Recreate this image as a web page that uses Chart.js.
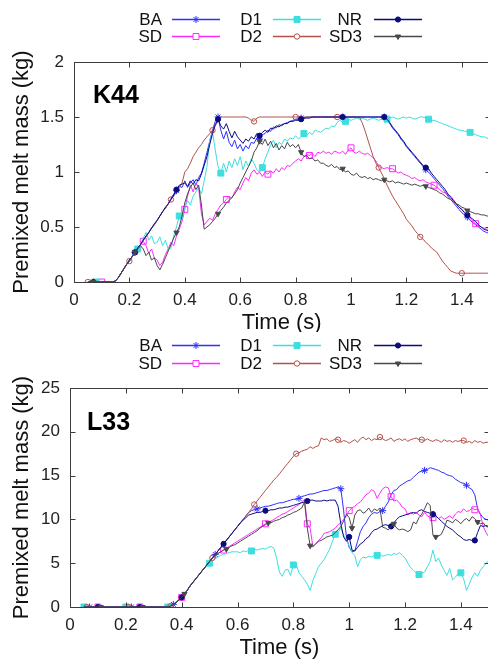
<!DOCTYPE html>
<html>
<head>
<meta charset="utf-8">
<script src="https://cdn.jsdelivr.net/npm/chart.js@4/dist/chart.umd.min.js"></script>
<style>
  html, body { margin: 0; padding: 0; background: #fff; }
  #wrap { position: relative; width: 488px; height: 664px; overflow: hidden; }
  canvas { position: absolute; left: 0; }
  #k44 { top: 0; }
  #l33 { top: 332px; }
</style>
</head>
<body>
<div id="wrap">
  <canvas id="k44" width="494" height="332"></canvas>
  <canvas id="l33" width="494" height="332"></canvas>
</div>
<script>
// time samples shared by both panels (s)
const TIME = [0.05,0.06,0.07,0.08,0.09,
  0.10,0.11,0.12,0.13,0.14,0.15,0.16,0.17,0.18,0.19,
  0.20,0.21,0.22,0.23,0.24,0.25,0.26,0.27,0.28,0.29,
  0.30,0.31,0.32,0.33,0.34,0.35,0.36,0.37,0.38,0.39,
  0.40,0.41,0.42,0.43,0.44,0.45,0.46,0.47,0.48,0.49,
  0.50,0.51,0.52,0.53,0.54,0.55,0.56,0.57,0.58,0.59,
  0.60,0.61,0.62,0.63,0.64,0.65,0.66,0.67,0.68,0.69,
  0.70,0.71,0.72,0.73,0.74,0.75,0.76,0.77,0.78,0.79,
  0.80,0.81,0.82,0.83,0.84,0.85,0.86,0.87,0.88,0.89,
  0.90,0.91,0.92,0.93,0.94,0.95,0.96,0.97,0.98,0.99,
  1.00,1.01,1.02,1.03,1.04,1.05,1.06,1.07,1.08,1.09,
  1.10,1.11,1.12,1.13,1.14,1.15,1.16,1.17,1.18,1.19,
  1.20,1.21,1.22,1.23,1.24,1.25,1.26,1.27,1.28,1.29,
  1.30,1.31,1.32,1.33,1.34,1.35,1.36,1.37,1.38,1.39,
  1.40,1.41,1.42,1.43,1.44,1.45,1.46,1.47,1.48,1.49,
  1.50];

const TIME_TICKS = [0, 0.2, 0.4, 0.6, 0.8, 1, 1.2, 1.4];
const K44_TICKS = [0, 0.5, 1, 1.5, 2];
const L33_TICKS = [0, 5, 10, 15, 20, 25];

// ---- K44 (kg) ----
const K44_BA = [0,0,0,0,0,
  0,0,0,0,0,0.01,0.04,0.08,0.12,0.16,
  0.20,0.23,0.27,0.30,0.34,0.38,0.41,0.45,0.49,0.52,
  0.56,0.60,0.64,0.67,0.71,0.76,0.80,0.83,0.87,0.86,
  0.92,0.86,0.90,0.93,0.88,0.95,0.99,1.08,1.18,1.28,
  1.38,1.46,1.50,1.38,1.30,1.37,1.27,1.23,1.29,1.21,
  1.25,1.19,1.24,1.21,1.27,1.26,1.31,1.30,1.34,1.35,
  1.38,1.37,1.41,1.40,1.43,1.42,1.44,1.45,1.46,1.47,
  1.48,1.48,1.49,1.49,1.50,1.50,1.50,1.50,1.50,1.50,
  1.50,1.50,1.50,1.50,1.50,1.50,1.50,1.50,1.50,1.50,
  1.50,1.50,1.50,1.50,1.50,1.50,1.50,1.50,1.50,1.50,
  1.50,1.50,1.50,1.47,1.44,1.40,1.37,1.34,1.30,1.27,
  1.23,1.20,1.17,1.14,1.11,1.08,1.05,1.02,1.00,0.97,
  0.94,0.91,0.88,0.85,0.82,0.78,0.75,0.72,0.69,0.66,
  0.63,0.61,0.59,0.56,0.54,0.52,0.50,0.48,0.46,0.45,
  0.44];
const K44_SD = [0,0,0,0,0,
  0,0,0,0,0,0.01,0.04,0.08,0.12,0.16,
  0.19,0.23,0.27,0.30,0.34,0.37,0.33,0.26,0.30,0.22,
  0.20,0.15,0.18,0.25,0.30,0.36,0.33,0.42,0.48,0.55,
  0.66,0.78,0.88,0.82,0.90,0.86,0.62,0.52,0.55,0.58,
  0.56,0.62,0.66,0.70,0.72,0.75,0.78,0.76,0.82,0.86,
  0.84,0.90,0.95,0.92,0.99,1.02,0.98,1.00,0.96,1.00,
  0.98,1.01,0.99,1.03,1.00,1.04,1.02,1.06,1.05,1.08,
  1.10,1.12,1.10,1.14,1.16,1.15,1.17,1.14,1.18,1.17,
  1.19,1.17,1.18,1.16,1.19,1.18,1.17,1.19,1.16,1.20,
  1.22,1.18,1.17,1.19,1.17,1.16,1.17,1.15,1.13,1.10,
  1.05,1.04,1.03,1.04,1.03,1.03,1.01,0.99,1.00,0.98,
  0.97,0.96,0.94,0.95,0.93,0.92,0.93,0.91,0.90,0.89,
  0.88,0.86,0.84,0.82,0.81,0.79,0.78,0.75,0.71,0.68,
  0.66,0.63,0.61,0.58,0.55,0.53,0.51,0.50,0.49,0.48,
  0.48];
const K44_D1 = [0,0,0,0,0,
  0,0,0,0,0,0.01,0.04,0.08,0.12,0.16,
  0.19,0.23,0.26,0.30,0.34,0.40,0.45,0.38,0.42,0.35,
  0.36,0.41,0.33,0.38,0.30,0.31,0.42,0.50,0.60,0.58,
  0.68,0.74,0.70,0.78,0.82,0.86,0.80,0.92,1.05,1.29,
  1.36,1.20,1.05,0.99,1.08,1.00,1.10,1.04,1.12,1.06,
  1.14,1.02,1.10,1.05,1.12,1.08,1.02,1.00,1.04,1.12,
  1.18,1.25,1.29,1.22,1.27,1.25,1.30,1.28,1.31,1.30,
  1.33,1.30,1.32,1.35,1.33,1.36,1.34,1.38,1.37,1.36,
  1.38,1.40,1.39,1.42,1.41,1.45,1.47,1.45,1.46,1.48,
  1.47,1.48,1.49,1.48,1.49,1.48,1.47,1.48,1.49,1.48,
  1.47,1.48,1.49,1.48,1.49,1.50,1.49,1.48,1.49,1.50,
  1.49,1.50,1.49,1.48,1.49,1.50,1.50,1.49,1.48,1.47,
  1.47,1.46,1.45,1.44,1.43,1.42,1.41,1.40,1.39,1.38,
  1.38,1.37,1.37,1.36,1.35,1.34,1.33,1.32,1.32,1.31,
  1.30];
const K44_D2 = [0,0,0,0,0,
  0,0,0,0,0,0.01,0.04,0.08,0.12,0.16,
  0.19,0.23,0.27,0.30,0.34,0.38,0.41,0.45,0.49,0.52,
  0.56,0.60,0.64,0.67,0.71,0.75,0.78,0.82,0.86,0.90,
  1.00,1.03,1.08,1.14,1.18,1.22,1.25,1.29,1.32,1.35,
  1.38,1.42,1.46,1.50,1.50,1.50,1.50,1.50,1.50,1.50,
  1.50,1.50,1.50,1.49,1.47,1.46,1.49,1.50,1.50,1.50,
  1.50,1.50,1.50,1.50,1.50,1.50,1.50,1.50,1.50,1.50,
  1.50,1.50,1.50,1.50,1.50,1.50,1.50,1.50,1.50,1.50,
  1.50,1.50,1.50,1.50,1.50,1.50,1.50,1.50,1.50,1.50,
  1.50,1.50,1.50,1.50,1.45,1.38,1.30,1.22,1.14,1.08,
  1.04,0.99,0.94,0.88,0.83,0.78,0.74,0.70,0.66,0.62,
  0.57,0.54,0.51,0.47,0.44,0.41,0.39,0.36,0.34,0.31,
  0.29,0.27,0.23,0.19,0.16,0.13,0.10,0.09,0.08,0.08,
  0.08,0.08,0.08,0.08,0.08,0.08,0.08,0.08,0.08,0.08,
  0.08];
const K44_NR = [0,0,0,0,0,
  0,0,0,0,0,0.01,0.04,0.08,0.12,0.16,
  0.20,0.23,0.27,0.31,0.34,0.38,0.42,0.45,0.49,0.53,
  0.56,0.60,0.64,0.68,0.71,0.75,0.79,0.84,0.88,0.89,
  0.90,0.87,0.92,0.89,0.93,0.92,0.98,1.06,1.14,1.25,
  1.35,1.43,1.48,1.42,1.39,1.44,1.37,1.31,1.37,1.32,
  1.29,1.26,1.30,1.28,1.32,1.30,1.35,1.33,1.36,1.38,
  1.36,1.40,1.39,1.42,1.41,1.43,1.44,1.44,1.46,1.46,
  1.47,1.47,1.48,1.49,1.49,1.49,1.50,1.50,1.50,1.50,
  1.50,1.50,1.50,1.50,1.50,1.50,1.50,1.50,1.50,1.50,
  1.50,1.50,1.50,1.50,1.50,1.50,1.50,1.50,1.50,1.50,
  1.50,1.50,1.50,1.48,1.45,1.41,1.38,1.35,1.31,1.28,
  1.24,1.21,1.18,1.15,1.12,1.09,1.06,1.04,1.03,0.99,
  0.96,0.93,0.90,0.87,0.84,0.80,0.77,0.74,0.71,0.68,
  0.66,0.63,0.61,0.59,0.57,0.55,0.52,0.50,0.48,0.47,
  0.46];
const K44_SD3 = [0,0,0,0,0,
  0,0,0,0,0,0.01,0.04,0.08,0.12,0.16,
  0.19,0.23,0.27,0.30,0.33,0.30,0.24,0.27,0.20,0.22,
  0.15,0.11,0.16,0.22,0.28,0.34,0.40,0.45,0.50,0.60,
  0.72,0.80,0.86,0.90,0.84,0.88,0.70,0.48,0.50,0.52,
  0.55,0.58,0.62,0.65,0.68,0.72,0.74,0.77,0.80,0.84,
  0.90,0.95,1.00,1.05,1.10,1.18,1.22,1.28,1.25,1.30,
  1.24,1.28,1.22,1.26,1.20,1.24,1.21,1.27,1.23,1.25,
  1.22,1.25,1.18,1.14,1.15,1.12,1.13,1.10,1.11,1.08,
  1.08,1.06,1.05,1.07,1.04,1.05,1.02,1.03,1.00,1.01,
  0.98,0.97,0.99,0.96,0.95,0.96,0.94,0.95,0.93,0.94,
  0.93,0.92,0.93,0.92,0.91,0.92,0.90,0.91,0.90,0.89,
  0.90,0.89,0.88,0.89,0.88,0.87,0.88,0.87,0.86,0.85,
  0.84,0.83,0.81,0.80,0.78,0.76,0.75,0.73,0.71,0.70,
  0.68,0.67,0.65,0.64,0.63,0.62,0.62,0.61,0.61,0.60,
  0.60];

// ---- L33 (kg) ----
const L33_BA = [0,0,0,0,0,
  0,0,0,0,0,0,0,0,0,0,
  0,0,0,0,0,0,0,0,0,0,
  0,0,0,0,0,0,0.1,0.3,0.5,0.8,
  1.1,1.5,1.9,2.4,2.8,3.2,3.6,4.0,4.4,4.8,
  5.2,5.6,6.0,6.4,6.8,7.2,7.6,8.0,8.4,8.8,
  9.2,9.6,10.0,10.4,10.8,11.0,11.1,11.2,11.3,11.4,
  11.5,11.5,11.6,11.7,11.8,11.9,11.9,12.0,12.1,12.2,
  12.3,12.3,12.4,12.6,12.7,12.8,12.9,12.9,13.0,13.1,
  13.2,13.3,13.3,13.4,13.5,13.6,13.7,13.5,11.0,8.0,
  6.8,6.3,6.4,7.5,8.6,9.2,9.6,10.2,10.6,10.8,
  10.7,10.9,11.0,11.5,12.0,12.8,13.3,13.4,13.8,14.0,
  14.2,14.4,14.5,14.8,15.1,15.4,15.5,15.6,15.7,15.9,
  15.8,15.7,15.6,15.4,15.3,15.1,15.0,14.9,14.6,14.4,
  14.2,14.1,13.9,13.6,13.4,12.8,11.2,10.6,10.2,10.0,
  9.9];
const L33_SD = [0,0,0,0,0,
  0,0,0,0,0,0,0,0,0,0,
  0,0,0,0,0,0,0,0,0,0,
  0,0,0,0,0,0,0.1,0.3,0.5,0.8,
  1.1,1.5,1.9,2.4,2.8,3.2,3.6,4.0,4.4,4.8,
  5.2,5.6,5.9,6.1,6.3,6.5,6.7,6.9,7.1,7.3,
  7.5,7.7,7.9,8.1,8.3,8.5,8.7,8.9,9.1,9.3,
  9.5,9.7,9.8,10.0,10.2,10.4,10.6,10.7,10.9,11.1,
  11.3,11.5,11.7,12.0,12.3,9.5,9.0,6.9,7.2,7.6,
  7.9,8.4,8.5,8.6,8.8,9.0,9.4,9.6,10.0,10.4,
  11.0,11.3,11.5,11.8,12.0,12.4,12.8,13.0,13.4,13.2,
  12.4,13.0,13.5,13.7,13.6,12.6,12.1,12.2,11.9,11.4,
  11.2,10.5,10.8,10.6,10.8,10.5,10.3,10.8,10.4,10.2,
  10.2,10.4,10.1,10.3,10.0,10.2,10.4,10.1,10.6,10.9,
  10.8,11.2,10.9,11.0,11.3,11.1,11.2,10.5,9.2,8.5,
  8.0];
const L33_D1 = [0,0,0,0,0,
  0,0,0,0,0,0,0,0,0,0,
  0,0,0,0,0,0,0,0,0,0,
  0,0,0,0,0,0,0.1,0.3,0.5,0.8,
  1.1,1.5,1.9,2.4,2.8,3.2,3.6,4.0,4.4,4.7,
  5.0,5.3,5.5,5.7,5.9,6.0,6.1,6.2,6.3,6.3,
  6.3,6.2,6.4,6.3,6.5,6.4,6.6,6.5,6.6,6.7,
  6.6,6.8,6.9,6.7,5.6,4.0,3.5,4.2,4.3,3.6,
  4.8,4.9,3.9,3.5,3.1,2.6,1.9,3.0,3.8,4.6,
  5.0,5.4,6.0,6.6,7.5,8.3,8.5,9.0,8.2,7.6,
  7.0,6.2,5.9,4.6,5.4,5.7,5.6,5.8,5.7,5.9,
  5.9,6.0,5.8,5.9,6.0,5.9,6.1,6.0,6.2,5.9,
  5.6,5.0,4.5,4.2,3.9,3.7,3.8,4.0,4.6,5.2,
  6.5,5.2,5.6,4.8,4.2,3.6,4.4,3.1,3.4,3.8,
  3.9,3.2,1.9,2.6,3.4,3.9,3.5,4.2,4.6,5.0,
  5.3];
const L33_D2 = [0,0,0,0,0,
  0,0,0,0,0,0,0,0,0,0,
  0,0,0,0,0,0,0,0,0,0,
  0,0,0,0,0,0,0.1,0.3,0.5,0.8,
  1.1,1.5,1.9,2.4,2.8,3.2,3.6,4.0,4.4,4.8,
  5.2,5.6,6.0,6.4,6.8,7.2,7.6,8.0,8.4,8.8,
  9.2,9.6,10.0,10.4,10.8,11.2,11.7,12.1,12.5,12.9,
  13.3,13.7,14.1,14.5,14.8,15.2,15.6,16.0,16.4,16.8,
  17.2,17.5,17.6,17.8,17.9,18.0,18.3,18.1,18.3,18.4,
  19.3,19.1,19.2,18.9,19.0,19.2,19.1,18.8,19.0,18.9,
  18.7,18.9,19.1,18.8,19.2,19.4,19.1,19.3,19.0,19.2,
  19.1,19.4,19.2,19.0,19.1,19.3,18.9,19.1,19.2,19.0,
  19.2,18.9,19.1,19.2,19.3,19.1,19.1,19.0,19.2,19.0,
  18.9,19.1,19.0,18.8,19.1,18.9,19.0,18.8,19.0,18.9,
  19.0,19.0,18.8,18.9,18.7,19.0,18.8,18.9,18.7,18.8,
  18.8];
const L33_NR = [0,0,0,0,0,
  0,0,0,0,0,0,0,0,0,0,
  0,0,0,0,0,0,0,0,0,0,
  0,0,0,0,0,0,0.1,0.3,0.5,0.8,
  1.1,1.5,1.9,2.4,2.8,3.2,3.6,4.0,4.4,4.8,
  5.2,5.6,6.0,6.4,6.8,7.2,7.6,8.0,8.4,8.8,
  9.2,9.6,9.9,10.2,10.5,10.6,10.7,10.8,10.8,10.9,
  11.0,11.0,11.1,11.1,11.2,11.3,11.3,11.4,11.4,11.5,
  11.6,11.7,11.8,11.9,12.0,12.1,12.2,12.2,12.1,12.1,
  12.1,12.2,12.1,12.2,12.2,12.2,11.5,9.5,8.0,7.5,
  8.0,6.5,6.4,6.8,7.2,7.4,7.8,8.0,8.5,8.8,
  8.9,9.1,9.3,9.4,9.3,9.2,9.6,10.0,10.3,10.4,
  10.5,10.6,10.7,10.8,10.7,11.0,11.1,10.9,10.8,10.7,
  10.6,10.4,10.1,9.8,9.5,9.2,9.0,8.8,8.5,8.2,
  8.0,7.7,7.6,7.7,7.6,7.6,8.5,9.3,9.2,9.3,
  9.2];
const L33_SD3 = [0,0,0,0,0,
  0,0,0,0,0,0,0,0,0,0,
  0,0,0,0,0,0,0,0,0,0,
  0,0,0,0,0,0,0.1,0.3,0.5,0.8,
  1.1,1.5,1.9,2.4,2.8,3.2,3.6,4.0,4.4,4.8,
  5.2,5.6,5.9,6.1,6.3,6.5,6.6,6.8,7.0,7.1,
  7.3,7.5,7.7,7.9,8.1,8.3,8.5,8.7,9.0,9.2,
  9.4,9.6,9.6,9.8,9.9,10.0,10.2,10.3,10.5,10.6,
  10.8,10.9,11.1,11.3,12.0,9.0,7.0,6.9,7.2,7.5,
  7.6,7.8,8.0,8.1,8.2,8.5,8.8,9.2,9.8,10.6,
  10.2,9.0,10.5,11.0,11.1,10.7,10.9,11.3,10.8,11.2,
  11.0,11.3,9.1,9.0,8.8,9.2,9.5,9.0,8.8,8.9,
  8.8,8.6,8.8,9.7,9.5,10.2,10.6,11.2,11.9,11.6,
  8.2,8.0,8.1,8.3,9.0,9.9,9.8,9.6,10.0,9.8,
  9.5,9.9,10.1,9.8,10.3,10.1,9.7,9.5,9.6,9.2,
  9.1];

// look of each series (legend order: row 1 BA D1 NR, row 2 SD D2 SD3)
const STYLES = {
  BA:  { color: '#2f2fff', point: 'star',     r: 3.5, fill: false, rot: 0 },
  D1:  { color: '#3edede', point: 'rect',     r: 4.2, fill: true,  rot: 0 },
  NR:  { color: '#0b0b80', point: 'circle',   r: 2.6, fill: true,  rot: 0 },
  SD:  { color: '#ff2aff', point: 'rect',     r: 4.2, fill: false, rot: 0 },
  D2:  { color: '#b3504a', point: 'circle',   r: 2.7, fill: false, rot: 0 },
  SD3: { color: '#484848', point: 'triangle', r: 3,   fill: true,  rot: 180 }
};
const LEGEND_ROWS = [['BA', 'D1', 'NR'], ['SD', 'D2', 'SD3']];
// first marker time of each series, a marker every 0.15 s
const K44_MARKS = { BA: 0.07, D1: 0.08, NR: 0.07, SD: 0.10, D2: 0.05, SD3: 0.07 };
const L33_MARKS = { BA: 0.07, D1: 0.05, NR: 0.10, SD: 0.10, D2: 0.06, SD3: 0.11 };

const FONT = '"Liberation Sans", Arial, sans-serif';

function makeDataset(name, values, firstMark) {
  const s = STYLES[name];
  return {
    label: name,
    data: TIME.map((t, i) => ({ x: t, y: values[i] })),
    borderColor: s.color,
    borderWidth: 1,
    pointStyle: s.point,
    pointRotation: s.rot,
    pointBorderColor: s.color,
    pointBackgroundColor: s.fill ? s.color : 'rgba(0,0,0,0)',
    pointBorderWidth: 1,
    pointRadius: function(ctx) {
      const k = Math.round((TIME[ctx.dataIndex] - firstMark) * 100);
      return (k >= 0 && k % 15 === 0) ? s.r : 0;
    },
    pointHoverRadius: 0,
    tension: 0,
    fill: false
  };
}

// frame with inward ticks, panel label and the two-row legend
const framePlugin = {
  id: 'frame',
  afterDraw(chart, args, opts) {
    const { ctx, chartArea: a, scales: { x, y } } = chart;
    const L = Math.round(a.left) + 0.5, R = Math.round(a.right) + 0.5;
    const T = Math.round(a.top) + 0.5, B = Math.round(a.bottom) + 0.5;
    ctx.save();
    ctx.strokeStyle = '#3c3c3c';
    ctx.lineWidth = 1;
    ctx.strokeRect(L, T, R - L, B - T);
    ctx.beginPath();
    x.ticks.forEach(t => {
      const px = Math.round(x.getPixelForValue(t.value)) + 0.5;
      ctx.moveTo(px, B); ctx.lineTo(px, B - 5);
      ctx.moveTo(px, T); ctx.lineTo(px, T + 5);
    });
    y.ticks.forEach(t => {
      const py = Math.round(y.getPixelForValue(t.value)) + 0.5;
      ctx.moveTo(L, py); ctx.lineTo(L + 5, py);
      ctx.moveTo(R, py); ctx.lineTo(R - 5, py);
    });
    ctx.stroke();

    ctx.fillStyle = '#000';
    ctx.font = 'bold 25px ' + FONT;
    ctx.textAlign = 'left';
    ctx.textBaseline = 'alphabetic';
    ctx.fillText(opts.label, opts.labelX, opts.labelY);

    ctx.font = '17px ' + FONT;
    ctx.textAlign = 'right';
    ctx.textBaseline = 'middle';
    const textRight = [162, 262, 362];
    const lineX = [[172, 220], [273, 321], [374, 422]];
    LEGEND_ROWS.forEach((row, ri) => {
      const ly = opts.legendY[ri];
      row.forEach((name, ci) => {
        const s = STYLES[name];
        ctx.fillStyle = '#111';
        ctx.fillText(name, textRight[ci], ly + 1);
        ctx.strokeStyle = s.color;
        ctx.lineWidth = 1.5;
        ctx.beginPath();
        ctx.moveTo(lineX[ci][0], ly + 0.5);
        ctx.lineTo(lineX[ci][1], ly + 0.5);
        ctx.stroke();
        if (Chart.helpers && Chart.helpers.drawPoint) {
          ctx.lineWidth = 1;
          ctx.fillStyle = s.fill ? s.color : '#fff';
          Chart.helpers.drawPoint(ctx, { pointStyle: s.point, rotation: s.rot, radius: s.r, borderWidth: 1 },
            (lineX[ci][0] + lineX[ci][1]) / 2, ly + 0.5);
        }
      });
    });
    ctx.restore();
  }
};

function makeChart(id, series, marks, yMax, yTicks, cfg) {
  const order = ['SD3', 'NR', 'D2', 'D1', 'SD', 'BA'];
  new Chart(document.getElementById(id), {
    type: 'line',
    data: { datasets: order.map(n => makeDataset(n, series[n], marks[n])) },
    plugins: [framePlugin],
    options: {
      responsive: false,
      animation: false,
      devicePixelRatio: 1,
      layout: { padding: { top: cfg.top, right: cfg.right, left: 0, bottom: 0 } },
      plugins: {
        legend: { display: false },
        tooltip: { enabled: false },
        frame: { label: cfg.label, labelX: cfg.labelX, labelY: cfg.labelY, legendY: cfg.legendY }
      },
      scales: {
        x: {
          type: 'linear',
          min: 0,
          max: 1.5,
          grid: { display: false, drawTicks: false },
          border: { display: false },
          afterBuildTicks: s => { s.ticks = TIME_TICKS.map(v => ({ value: v })); },
          afterFit: s => { s.height = cfg.xHeight; },
          ticks: {
            font: { family: FONT, size: 17 }, color: '#222', padding: 8, maxRotation: 0,
            callback: v => String(v)
          },
          title: {
            display: true, text: 'Time (s)', color: '#111',
            font: { family: FONT, size: 22, lineHeight: 1 },
            padding: { top: 0, bottom: cfg.xTitlePad }
          }
        },
        y: {
          min: 0,
          max: yMax,
          grid: { display: false, drawTicks: false },
          border: { display: false },
          afterBuildTicks: s => { s.ticks = yTicks.map(v => ({ value: v })); },
          afterFit: s => { s.width = cfg.yWidth; },
          ticks: {
            font: { family: FONT, size: 17 }, color: '#222', padding: 10,
            callback: v => String(v)
          },
          title: {
            display: true, text: 'Premixed melt mass (kg)', color: '#111',
            font: { family: FONT, size: 22, lineHeight: 1 },
            padding: { top: 11, bottom: 0 }
          }
        }
      }
    }
  });
}

makeChart('k44',
  { BA: K44_BA, SD: K44_SD, D1: K44_D1, D2: K44_D2, NR: K44_NR, SD3: K44_SD3 },
  K44_MARKS, 2, K44_TICKS,
  { top: 62, right: 4.5, xHeight: 50, yWidth: 74, xTitlePad: -2,
    label: 'K44', labelX: 93, labelY: 103, legendY: [19, 36] });

makeChart('l33',
  { BA: L33_BA, SD: L33_SD, D1: L33_D1, D2: L33_D2, NR: L33_NR, SD3: L33_SD3 },
  L33_MARKS, 25, L33_TICKS,
  { top: 56, right: 3, xHeight: 57, yWidth: 70, xTitlePad: 5,
    label: 'L33', labelX: 87, labelY: 98, legendY: [13, 31] });
</script>
</body>
</html>
